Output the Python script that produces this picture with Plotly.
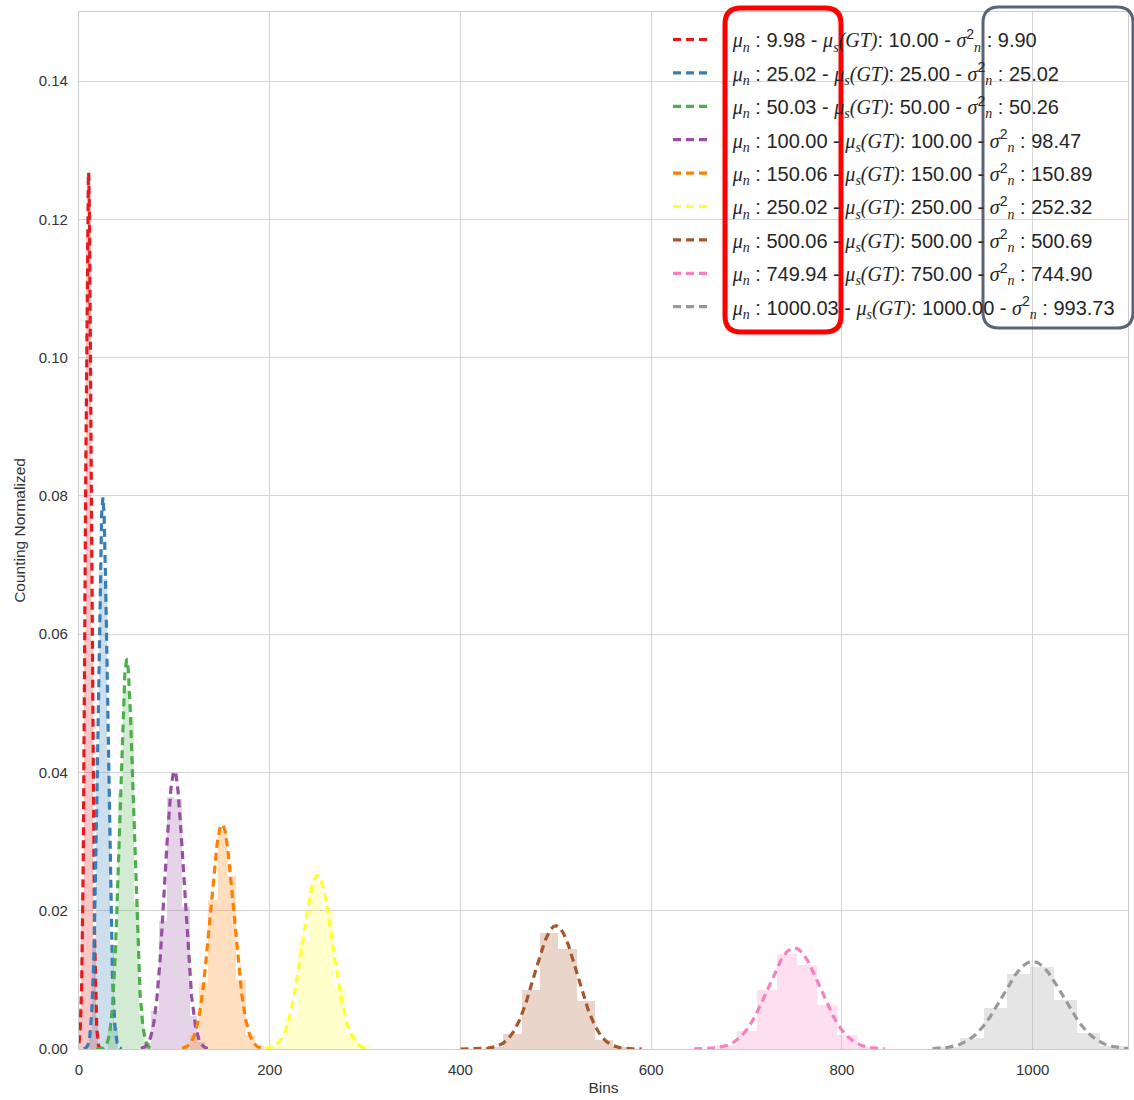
import numpy as np
import plotly.graph_objects as go

# Fitted parameters per sample set (shown in the legend)
mu_n = [9.98, 25.02, 50.03, 100.00, 150.06, 250.02, 500.06, 749.94, 1000.03]
mu_gt = [10.00, 25.00, 50.00, 100.00, 150.00, 250.00, 500.00, 750.00, 1000.00]
var_n = [9.90, 25.02, 50.26, 98.47, 150.89, 252.32, 500.69, 744.90, 993.73]

colors = ["#e41a1c", "#377eb8", "#4daf4a", "#984ea3", "#ff7f00",
          "#ffff33", "#a65628", "#f781bf", "#999999"]

# Normalized histogram of each sample set: first bin edge, bin width, densities
hist_start = [0.0, 10.0, 30.0, 68.0, 116.0, 203.2, 425.8, 668.8, 899.5]
hist_width = [2.5, 3.8, 5.5, 8.0, 9.8, 12.8, 19.2, 21.0, 24.5]
hist_density = [
    [0.0060, 0.0220, 0.0600, 0.1180, 0.1240, 0.0580, 0.0160, 0.0040],
    [0.0025, 0.0150, 0.0420, 0.0690, 0.0680, 0.0420, 0.0140, 0.0030],
    [0.0030, 0.0150, 0.0370, 0.0520, 0.0480, 0.0210, 0.0050, 0.0010],
    [0.0008, 0.0055, 0.0185, 0.0365, 0.0362, 0.0205, 0.0048, 0.0010],
    [0.0020, 0.0095, 0.0215, 0.0315, 0.0250, 0.0100, 0.0020, 0.0004],
    [0.0005, 0.0047, 0.0156, 0.0240, 0.0200, 0.0088, 0.0021, 0.0004],
    [0.0003, 0.0022, 0.0085, 0.0168, 0.0144, 0.0070, 0.0013, 0.0003],
    [0.0006, 0.0026, 0.0086, 0.0137, 0.0121, 0.0064, 0.0020, 0.0003],
    [0.0003, 0.0016, 0.0059, 0.0108, 0.0119, 0.0071, 0.0023, 0.0005],
]

# Span over which each fitted normal curve is drawn
curve_lo = [0, 5, 18, 65, 108, 195, 400, 645, 895]
curve_hi = [22, 45, 80, 135, 192, 305, 590, 845, 1100]

x_ticks = [0, 200, 400, 600, 800, 1000]
y_ticks = [0.00, 0.02, 0.04, 0.06, 0.08, 0.10, 0.12, 0.14]


def rgba(hex_color, alpha):
    h = hex_color.lstrip("#")
    r, g, b = int(h[0:2], 16), int(h[2:4], 16), int(h[4:6], 16)
    return f"rgba({r},{g},{b},{alpha})"


def normal_pdf(x, mean, var):
    return np.exp(-0.5 * (x - mean) ** 2 / var) / np.sqrt(2 * np.pi * var)


def legend_label(m, g, v):
    it = "<span style=\"font-family:'Liberation Serif';font-style:italic\">{}</span>"
    return (f"&nbsp;&nbsp;&nbsp;{it.format('μ')}<sub>{it.format('n')}</sub> : {m:.2f} - "
            f"{it.format('μ')}<sub>{it.format('s')}</sub>{it.format('(GT)')}: {g:.2f} - "
            f"{it.format('σ')}<sup>2</sup><sub>{it.format('n')}</sub> : {v:.2f}")


fig = go.Figure()

# Histograms (light filled bars)
for i in range(len(mu_n)):
    dens = np.array(hist_density[i])
    edges = hist_start[i] + hist_width[i] * np.arange(len(dens) + 1)
    centers = 0.5 * (edges[:-1] + edges[1:])
    fig.add_trace(go.Bar(
        x=centers, y=dens, width=hist_width[i],
        marker=dict(color=rgba(colors[i], 0.25), line=dict(width=0)),
        showlegend=False, hoverinfo="skip",
    ))

# Fitted normal curves (dashed)
for i in range(len(mu_n)):
    xs = np.linspace(curve_lo[i], curve_hi[i], 400)
    ys = normal_pdf(xs, mu_n[i], var_n[i])
    fig.add_trace(go.Scatter(
        x=xs, y=ys, mode="lines",
        line=dict(color=colors[i], width=3.2, dash="8px,5px"),
        name=legend_label(mu_n[i], mu_gt[i], var_n[i]),
        legendgroup=f"g{i}",
    ))

W, H = 1134, 1100
L, R, T, B = 79, 6, 12, 51
pw, ph = W - L - R, H - T - B


def px_x(p):
    return (p - L) / pw


def px_y(p):
    return (H - B - p) / ph


def rounded_rect(x0, y0, x1, y1, r):
    # rounded rectangle path in paper coordinates from pixel corners
    rx, ry = r / pw, r / ph
    X0, X1 = px_x(x0), px_x(x1)
    Y0, Y1 = px_y(y0), px_y(y1)  # Y0 top, Y1 bottom
    return (f"M {X0 + rx},{Y0} L {X1 - rx},{Y0} Q {X1},{Y0} {X1},{Y0 - ry} "
            f"L {X1},{Y1 + ry} Q {X1},{Y1} {X1 - rx},{Y1} "
            f"L {X0 + rx},{Y1} Q {X0},{Y1} {X0},{Y1 + ry} "
            f"L {X0},{Y0 - ry} Q {X0},{Y0} {X0 + rx},{Y0} Z")


fig.add_shape(type="path", xref="paper", yref="paper",
              path=rounded_rect(725, 8, 841, 332, 16),
              line=dict(color="#ff0000", width=5), layer="above")
fig.add_shape(type="path", xref="paper", yref="paper",
              path=rounded_rect(983, 7, 1133, 328, 16),
              line=dict(color="#5b6477", width=3), layer="above")

tick_font = dict(family="Liberation Sans, Arial, sans-serif", size=15, color="#333333")
title_font = dict(family="Liberation Sans, Arial, sans-serif", size=15.5, color="#333333")

axis_common = dict(
    showgrid=True, gridcolor="#d4d4d4", gridwidth=1.2,
    showline=True, linecolor="#cccccc", linewidth=1.2, mirror=True,
    zeroline=False, ticks="outside", ticklen=7, tickcolor="rgba(0,0,0,0)",
    tickfont=tick_font,
)

fig.update_xaxes(range=[0, 1100], tickvals=x_ticks,
                 title=dict(text="Bins", standoff=5, font=title_font),
                 **axis_common)
fig.update_yaxes(range=[0, 0.15], tickvals=y_ticks, tickformat=".2f",
                 title=dict(text="Counting Normalized", standoff=9, font=title_font),
                 **axis_common)

fig.update_layout(
    width=W, height=H,
    margin=dict(l=L, r=R, t=T, b=B),
    paper_bgcolor="white", plot_bgcolor="white",
    barmode="overlay", bargap=0,
    legend=dict(
        x=px_x(668), y=px_y(20), xanchor="left", yanchor="top",
        bgcolor="rgba(0,0,0,0)", borderwidth=0,
        font=dict(family="Liberation Sans, Arial, sans-serif", size=20, color="#262626"),
        tracegroupgap=4.4, itemwidth=38,
    ),
)

fig.write_html("out.html")
